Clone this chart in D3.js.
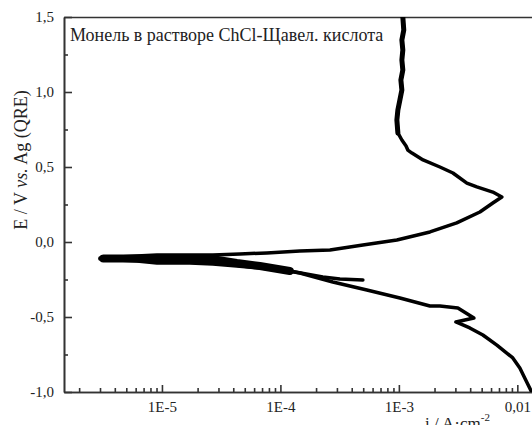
<!DOCTYPE html>
<html>
<head>
<meta charset="utf-8">
<script src="https://cdn.jsdelivr.net/npm/d3@7"></script>
<style>
  body { margin: 0; background: #fff; }
  text { font-family: "Liberation Serif", "Times New Roman", serif; fill: #222; }
</style>
</head>
<body>
<div id="chart"></div>
<script>
// cathodic branch (from -1.0 V up to the corrosion potential)
var cathCurrent = [1.32e-2, 1.20e-2, 1.05e-2, 9.16e-3, 6.72e-3, 5.12e-3, 3.97e-3, 3.03e-3, 4.30e-3, 3.15e-3,
  2.22e-3, 1.83e-3, 1.02e-3, 5.37e-4, 2.77e-4, 1.46e-4, 1.05e-4, 6.71e-5, 4.29e-5, 2.69e-5,
  1.72e-5, 9.08e-6, 6.15e-6, 3.0e-6];
var cathPotential = [-1.0, -0.933, -0.84, -0.773, -0.687, -0.62, -0.573, -0.533, -0.507, -0.44,
  -0.427, -0.427, -0.373, -0.32, -0.267, -0.207, -0.187, -0.173, -0.16, -0.147,
  -0.14, -0.14, -0.127, -0.113];

// anodic branch (from the corrosion potential up to 1.5 V)
var anodCurrent = [3.0e-6, 6.15e-6, 9.08e-6, 1.72e-5, 2.69e-5, 4.55e-5, 7.69e-5, 1.46e-4, 2.62e-4, 4.97e-4,
  9.62e-4, 1.83e-3, 3.08e-3, 4.83e-3, 6.21e-3, 7.40e-3, 6.21e-3, 4.55e-3, 3.75e-3, 2.86e-3,
  2.22e-3, 1.60e-3, 1.29e-3, 1.19e-3, 1.15e-3, 1.06e-3, 9.81e-4, 9.62e-4, 9.81e-4, 1.02e-3,
  1.06e-3, 1.04e-3, 1.08e-3, 1.06e-3, 1.08e-3, 1.06e-3, 1.10e-3, 1.08e-3];
var anodPotential = [-0.107, -0.093, -0.087, -0.087, -0.087, -0.08, -0.073, -0.06, -0.053, -0.02,
  0.013, 0.067, 0.127, 0.20, 0.26, 0.30, 0.333, 0.367, 0.393, 0.46,
  0.50, 0.547, 0.593, 0.613, 0.64, 0.68, 0.727, 0.813, 0.88, 0.947,
  1.013, 1.08, 1.147, 1.213, 1.28, 1.347, 1.413, 1.50];

// short start-of-scan segment near -0.25 V, runs into the noisy band at Ecorr
var stubCurrent = [4.97e-4, 3.18e-4, 2.28e-4, 1.20e-4, 6.71e-5, 4.29e-5, 2.69e-5, 1.72e-5, 9.62e-6, 5.37e-6, 3.2e-6];
var stubPotential = [-0.253, -0.247, -0.233, -0.193, -0.16, -0.14, -0.115, -0.113, -0.11, -0.11, -0.11];

// ticks
var xMajor = [1e-5, 1e-4, 1e-3, 1e-2];
var xMajorLabels = ["1E-5", "1E-4", "1E-3", "0,01"];
var xMinor = [2e-6, 3e-6, 4e-6, 5e-6, 6e-6, 7e-6, 8e-6, 9e-6,
  2e-5, 3e-5, 4e-5, 5e-5, 6e-5, 7e-5, 8e-5, 9e-5,
  2e-4, 3e-4, 4e-4, 5e-4, 6e-4, 7e-4, 8e-4, 9e-4,
  2e-3, 3e-3, 4e-3, 5e-3, 6e-3, 7e-3, 8e-3, 9e-3];
var yMajor = [-1.0, -0.5, 0.0, 0.5, 1.0, 1.5];
var yMajorLabels = ["-1,0", "-0,5", "0,0", "0,5", "1,0", "1,5"];
var yMinor = [-0.75, -0.25, 0.25, 0.75, 1.25];

var titleText = "Монель в растворе ChCl-Щавел. кислота";

var svgWidth = 532;
var svgHeight = 425;
var margin = { top: 17, right: 0, bottom: 33, left: 64 };
var width = svgWidth - margin.left - margin.right;
var height = svgHeight - margin.top - margin.bottom;

var svg = d3.select("#chart")
  .append("svg")
  .attr("width", svgWidth)
  .attr("height", svgHeight);

var chartGroup = svg.append("g")
  .attr("transform", `translate(${margin.left}, ${margin.top})`);

var xScale = d3.scaleLog()
  .domain([1.49e-6, 1.33e-2])
  .range([0, width]);

var yScale = d3.scaleLinear()
  .domain([-1.0, 1.5])
  .range([height, 0]);

chartGroup.append("clipPath")
  .attr("id", "plotClip")
  .append("rect")
  .attr("width", width)
  .attr("height", height);

// axes: ticks point inward
function styleAxis(g) {
  g.selectAll("path, line").attr("stroke", "#333").attr("stroke-width", 1.6);
  g.selectAll("text")
    .attr("fill", "#222")
    .style("font-family", "'Liberation Serif', serif")
    .style("font-size", "15px");
}

chartGroup.append("g")
  .attr("transform", `translate(0, ${height})`)
  .call(d3.axisBottom(xScale).tickValues(xMinor).tickSize(-4).tickSizeOuter(0).tickFormat(""))
  .call(styleAxis);

chartGroup.append("g")
  .attr("transform", `translate(0, ${height})`)
  .call(d3.axisBottom(xScale).tickValues(xMajor).tickSize(-7).tickSizeOuter(0).tickPadding(9)
    .tickFormat(function(d, i) { return xMajorLabels[i]; }))
  .call(styleAxis);

chartGroup.append("g")
  .call(d3.axisLeft(yScale).tickValues(yMinor).tickSize(-4).tickSizeOuter(0).tickFormat(""))
  .call(styleAxis);

chartGroup.append("g")
  .call(d3.axisLeft(yScale).tickValues(yMajor).tickSize(-8).tickSizeOuter(0).tickPadding(10)
    .tickFormat(function(d, i) { return yMajorLabels[i]; }))
  .call(styleAxis);

// top frame line
chartGroup.append("g")
  .call(d3.axisTop(xScale).tickValues([]).tickSizeOuter(0))
  .call(styleAxis);

// curves
var line = d3.line()
  .x(function(d) { return xScale(d[0]); })
  .y(function(d) { return yScale(d[1]); });

var anodPts = d3.zip(anodCurrent, anodPotential);
var stubPts = d3.zip(stubCurrent, stubPotential);

var curves = [
  { pts: d3.zip(cathCurrent, cathPotential), w: 3.5 },
  { pts: anodPts, w: 3.5 },
  { pts: stubPts, w: 3.5 },
  // the noisy band around Ecorr and the noisy passive plateau look heavier
  { pts: stubPts.filter(function(d) { return d[0] < 1.3e-4; }), w: 8 },
  { pts: anodPts.filter(function(d) { return d[1] > 0.7; }), w: 5 }
];

chartGroup.append("g")
  .attr("clip-path", "url(#plotClip)")
  .selectAll("path")
  .data(curves)
  .enter()
  .append("path")
  .attr("d", function(d) { return line(d.pts); })
  .attr("fill", "none")
  .attr("stroke", "#000")
  .attr("stroke-width", function(d) { return d.w; })
  .attr("stroke-linejoin", "round")
  .attr("stroke-linecap", "round");

// title inside plot
chartGroup.append("text")
  .attr("x", 6)
  .attr("y", 24)
  .style("font-size", "18px")
  .text(titleText);

// y axis title
var yTitle = svg.append("text")
  .attr("transform", "rotate(-90)")
  .attr("x", -160)
  .attr("y", 27)
  .attr("text-anchor", "middle")
  .style("font-size", "18px");
yTitle.append("tspan").text("E / V ");
yTitle.append("tspan").style("font-style", "italic").text("vs.");
yTitle.append("tspan").text(" Ag (QRE)");

// x axis title
var xTitle = svg.append("text")
  .attr("x", 425)
  .attr("y", 429)
  .style("font-size", "17px");
xTitle.append("tspan").text("i / A·cm");
xTitle.append("tspan").attr("dy", -8).style("font-size", "11px").text("-2");
</script>
</body>
</html>
